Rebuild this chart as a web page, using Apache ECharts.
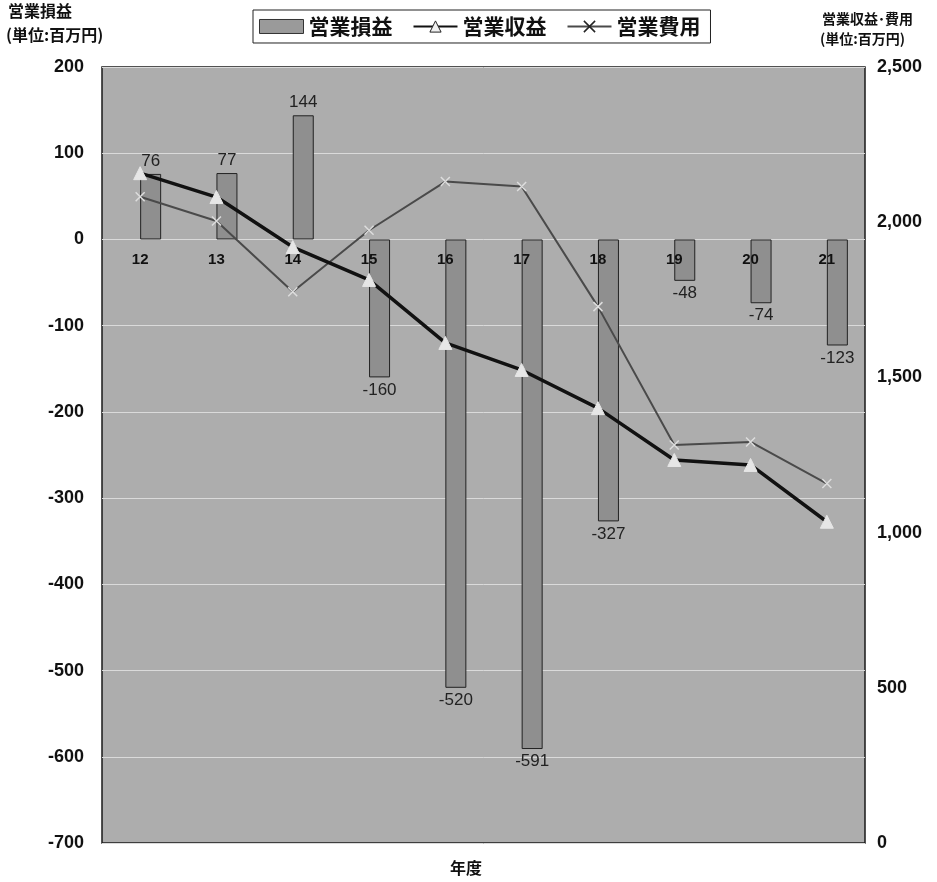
<!DOCTYPE html>
<html><head><meta charset="utf-8">
<script src="https://cdn.jsdelivr.net/npm/echarts@6/dist/echarts.min.js"></script>
<style>html,body{margin:0;padding:0;background:#fff}#c{width:937px;height:882px}</style>
</head><body><div id="c"></div>
<script>
const categories = ['12','13','14','15','16','17','18','19','20','21'];
const profit = [76, 77, 144, -160, -520, -591, -327, -48, -74, -123];
const revenue = [2158, 2081, 1920, 1814, 1611, 1524, 1401, 1234, 1218, 1035];
const expense = [2082, 2004, 1776, 1974, 2131, 2115, 1728, 1282, 1292, 1158];
const leftTicks = {min: -700, max: 200, interval: 100};
const rightTicks = {min: 0, max: 2500, interval: 500};

const FONT = '"Liberation Sans", "Noto Sans CJK JP", sans-serif';
const crossPath = 'path://M0,0L10,10M10,0L0,10';

const GRID_TOP = 67, GRID_BOTTOM = 39, H = 882;
const plotH = H - GRID_TOP - GRID_BOTTOM;
// distance from the plot bottom up to the value 0 on the left axis
const zeroOffset = plotH * (0 - leftTicks.min) / (leftTicks.max - leftTicks.min);

const chart = echarts.init(document.getElementById('c'));
chart.setOption({
  animation: false,
  backgroundColor: '#ffffff',
  textStyle: {fontFamily: FONT},
  grid: {left: 102, right: 72, top: GRID_TOP, bottom: GRID_BOTTOM, show: true,
         backgroundColor: '#adadad', borderColor: '#1a1a1a', borderWidth: 1.5},
  legend: {
    data: [
      {name: '営業損益', icon: 'rect', itemStyle: {color: '#9a9a9a', borderColor: '#333', borderWidth: 1}},
      {name: '営業収益', itemStyle: {color: '#f0f0f0', borderColor: '#222', borderWidth: 1}},
      {name: '営業費用', itemStyle: {color: '#222', borderColor: '#222', borderWidth: 1.5}}
    ],
    left: 253, top: 10, itemWidth: 44, itemHeight: 14, itemGap: 20,
    borderColor: '#222', borderWidth: 1, padding: [6, 10, 6, 6],
    textStyle: {fontSize: 21, fontWeight: 'bold', color: '#111', fontFamily: '"Noto Sans CJK JP", sans-serif'}
  },
  graphic: [
    {type: 'text', left: 8, top: 3, style: {text: '営業損益', font: 'bold 16px "Noto Sans CJK JP"', fill: '#111'}},
    {type: 'text', left: 6, top: 27, style: {text: '(単位:百万円)', font: 'bold 16px "Noto Sans CJK JP"', fill: '#111'}},
    {type: 'text', left: 822, top: 12, style: {text: '営業収益･費用', font: 'bold 14px "Noto Sans CJK JP"', fill: '#111'}},
    {type: 'text', left: 820, top: 32, style: {text: '(単位:百万円)', font: 'bold 14px "Noto Sans CJK JP"', fill: '#111'}},
    {type: 'text', left: 450, top: 860, style: {text: '年度', font: 'bold 16px "Noto Sans CJK JP"', fill: '#111'}}
  ],
  xAxis: {
    type: 'category', data: categories, position: 'bottom', offset: -zeroOffset, z: 10,
    axisLine: {show: false, onZero: false},
    axisTick: {show: false},
    axisLabel: {margin: 13, fontSize: 15, fontWeight: 'bold', color: '#111', fontFamily: FONT}
  },
  yAxis: [
    {type: 'value', min: leftTicks.min, max: leftTicks.max, interval: leftTicks.interval,
     axisLine: {show: false}, axisTick: {show: false},
     axisLabel: {margin: 18, fontSize: 18, fontWeight: 'bold', color: '#111', fontFamily: FONT},
     splitLine: {show: true, lineStyle: {color: '#dadada', width: 1}}},
    {type: 'value', min: rightTicks.min, max: rightTicks.max, interval: rightTicks.interval,
     axisLine: {show: false}, axisTick: {show: false},
     axisLabel: {margin: 12, fontSize: 18, fontWeight: 'bold', color: '#111', fontFamily: FONT},
     splitLine: {show: false}}
  ],
  series: [
    {name: '_spacer', type: 'bar', yAxisIndex: 0, barWidth: 21, barGap: '0%',
     data: categories.map(() => '-'), silent: true},
    {name: '営業損益', type: 'bar', yAxisIndex: 0, barWidth: 21, barGap: '0%',
     itemStyle: {color: '#8f8f8f', borderColor: '#222', borderWidth: 1},
     label: {show: true, fontSize: 17, color: '#222', fontFamily: FONT, distance: 4},
     data: profit.map(v => ({value: v, label: {position: v >= 0 ? 'top' : 'bottom'}}))},
    {name: '営業収益', type: 'line', yAxisIndex: 1, z: 5,
     lineStyle: {color: '#111', width: 3.5},
     itemStyle: {color: '#e6e6e6', borderColor: '#e6e6e6'},
     symbol: 'triangle', symbolSize: 13,
     data: revenue},
    {name: '営業費用', type: 'line', yAxisIndex: 1, z: 4,
     lineStyle: {color: '#4a4a4a', width: 2},
     itemStyle: {color: '#dddddd', borderColor: '#dddddd', borderWidth: 1.5},
     symbol: crossPath, symbolSize: 9,
     data: expense}
  ]
});
</script></body></html>
